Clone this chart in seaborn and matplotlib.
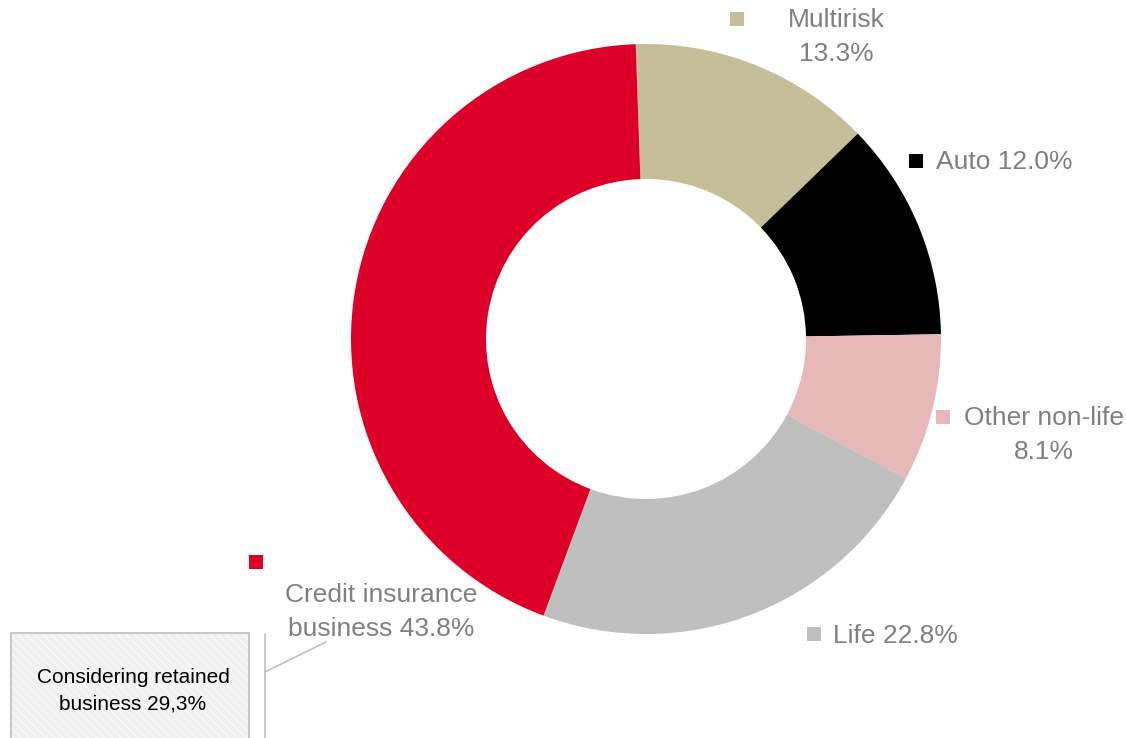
import matplotlib
matplotlib.use("Agg")
import matplotlib.pyplot as plt
from matplotlib.patches import Rectangle
import seaborn as sns

# Portfolio mix, clockwise from the top
categories = ["Multirisk", "Auto", "Other non-life", "Life", "Credit insurance business"]
shares = [13.3, 12.0, 8.1, 22.8, 43.8]
colors = ["#C5BE98", "#000000", "#E6B8B7", "#BFBFBF", "#DC0028"]
retained_note = "Considering retained\nbusiness 29,3%"

sns.set_theme(style="white")
plt.rcParams["font.family"] = ["Liberation Sans", "DejaVu Sans"]

W, H = 1126, 738
fig = plt.figure(figsize=(W / 100, H / 100), dpi=100)
ax = fig.add_axes([0, 0, 1, 1])

# Work in pixel-like units with y measured from the bottom
def Y(py):
    return H - py

cx, cy, r_out, ring = 646, 339, 295, 135
ax.pie(shares, colors=colors, startangle=92, counterclock=False,
       center=(cx, Y(cy)), radius=r_out,
       wedgeprops=dict(width=ring, linewidth=0))

ax.set_xlim(0, W)
ax.set_ylim(0, H)
ax.set_aspect("equal")
ax.axis("off")

txt_col = "#808080"
fs = 19
ls = 1.55
sq = 14

def key(x, y, c):
    ax.add_patch(Rectangle((x - sq / 2, Y(y) - sq / 2), sq, sq, facecolor=c,
                           edgecolor="none"))

def pct(v):
    return f"{v:.1f}%"

# Multirisk
key(737, 19, colors[0])
ax.text(836, Y(37), f"{categories[0]}\n{pct(shares[0])}", ha="center", va="center",
        fontsize=fs, color=txt_col, linespacing=ls)
# Auto
key(916, 161, colors[1])
ax.text(936, Y(162), f"{categories[1]} {pct(shares[1])}", ha="left", va="center",
        fontsize=fs, color=txt_col)
# Other non-life
key(943, 417, colors[2])
ax.text(1044, Y(435), f"{categories[2]}\n{pct(shares[2])}", ha="center", va="center",
        fontsize=fs, color=txt_col, linespacing=ls)
# Life
key(814, 634, colors[3])
ax.text(833, Y(636), f"{categories[3]} {pct(shares[3])}", ha="left", va="center",
        fontsize=fs, color=txt_col)
# Credit insurance
key(256, 562, colors[4])
ax.text(381, Y(612), "Credit insurance\nbusiness " + pct(shares[4]), ha="center",
        va="center", fontsize=fs, color=txt_col, linespacing=ls)

# Retained-business call-out box
plt.rcParams["hatch.linewidth"] = 0.6
ax.add_patch(Rectangle((11, Y(760)), 238, 760 - 633, facecolor="#F0F0F0",
                       edgecolor="white", linewidth=0, hatch="\\\\\\\\"))
ax.add_patch(Rectangle((11, Y(760)), 238, 760 - 633, fill=False,
                       edgecolor="#BFBFBF", linewidth=1.2))
ax.text(133, Y(691), retained_note, ha="center", va="center", fontsize=15,
        color="black", linespacing=1.5)

# Bracket and leader line
ax.plot([265, 265], [Y(634), Y(760)], color="#BFBFBF", lw=1.2)
ax.plot([265, 326], [Y(672), Y(642)], color="#BFBFBF", lw=1.2)

fig.savefig("out.png", dpi=100)
